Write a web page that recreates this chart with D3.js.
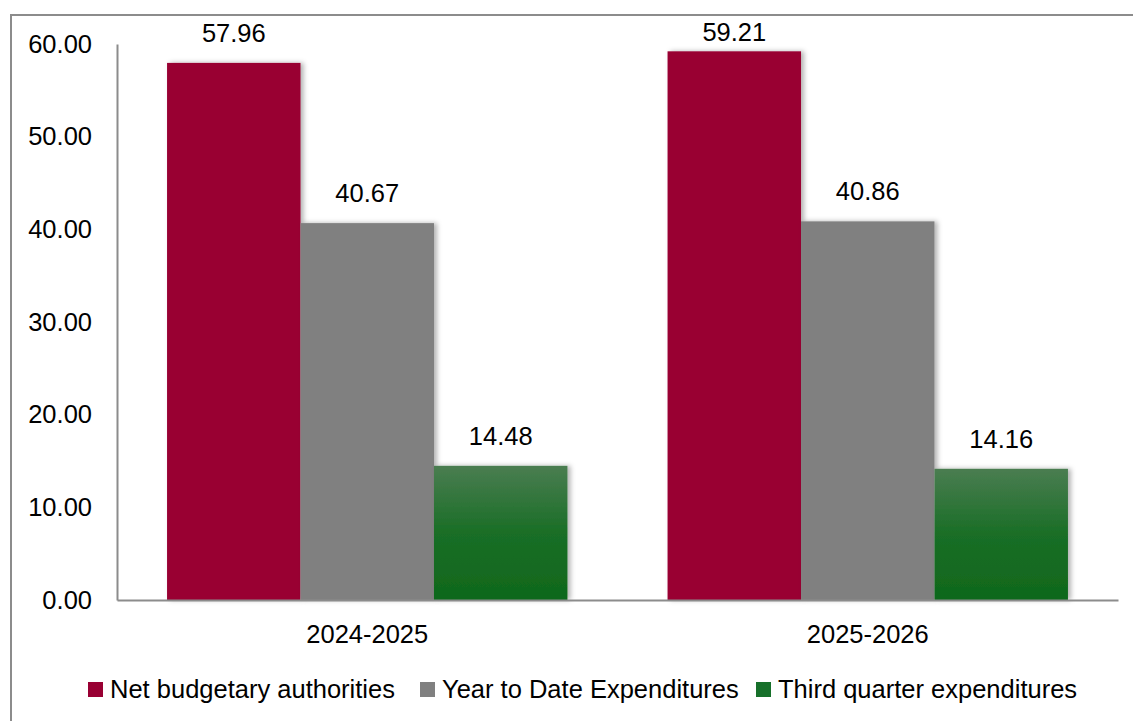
<!DOCTYPE html>
<html>
<head>
<meta charset="utf-8">
<script src="https://cdn.jsdelivr.net/npm/d3@7"></script>
<style>
  body { margin: 0; background: #fff; }
  svg text { font-family: "Liberation Sans", Arial, sans-serif; fill: #000; }
</style>
</head>
<body>
<div></div>
<script>
const categories = ['2024-2025', '2025-2026'];
const seriesNames = ['Net budgetary authorities', 'Year to Date Expenditures', 'Third quarter expenditures'];
const netBudgetary = [57.96, 59.21];
const yearToDate = [40.67, 40.86];
const thirdQuarter = [14.48, 14.16];
const yTicks = [0, 10, 20, 30, 40, 50, 60];

const seriesValues = [netBudgetary, yearToDate, thirdQuarter];
const colors = ['#990033', '#808080', 'url(#greenGrad)'];
const legendColors = ['#990033', '#808080', '#17702a'];

const svgWidth = 1133,
    svgHeight = 721;
const margin = { top: 44, left: 117, right: 15, bottom: 121 };
const plotRight = svgWidth - margin.right,
    plotBottom = svgHeight - margin.bottom;
const fontSize = '25.5px';

const svg = d3.select('body')
    .select('div')
    .append('svg')
    .attr('width', svgWidth)
    .attr('height', svgHeight);

const defs = svg.append('defs');
const grad = defs.append('linearGradient')
    .attr('id', 'greenGrad')
    .attr('x1', 0).attr('y1', 0).attr('x2', 0).attr('y2', 1);
grad.append('stop').attr('offset', '0%').attr('stop-color', '#4a7d51');
grad.append('stop').attr('offset', '50%').attr('stop-color', '#1a6e26');
grad.append('stop').attr('offset', '100%').attr('stop-color', '#0f681c');

const shadow = defs.append('filter')
    .attr('id', 'shadow')
    .attr('x', '-10%').attr('y', '-10%')
    .attr('width', '130%').attr('height', '120%');
shadow.append('feDropShadow')
    .attr('dx', 3).attr('dy', 0)
    .attr('stdDeviation', 2.5)
    .attr('flood-color', '#000')
    .attr('flood-opacity', 0.3);

// outer chart border (right/bottom run off the picture)
svg.append('rect')
    .attr('x', 11)
    .attr('y', 15)
    .attr('width', svgWidth + 20)
    .attr('height', svgHeight + 20)
    .attr('fill', 'none')
    .attr('stroke', '#8c8c8c')
    .attr('stroke-width', 2);

const x0 = d3.scaleBand()
    .domain(categories)
    .range([margin.left, plotRight])
    .paddingInner(0.2)
    .paddingOuter(0.1);

const x1 = d3.scaleBand()
    .domain(d3.range(seriesNames.length))
    .range([0, x0.bandwidth()]);

const yScale = d3.scaleLinear()
    .domain([0, 60])
    .range([plotBottom, margin.top]);

const groups = svg.selectAll('g.series')
    .data(seriesValues)
    .enter()
    .append('g')
    .attr('class', 'series');

groups.selectAll('rect')
    .data((vals, i) => vals.map((v, j) => ({ v, i, cat: categories[j] })))
    .enter()
    .append('rect')
    .attr('x', d => x0(d.cat) + x1(d.i))
    .attr('y', d => yScale(d.v))
    .attr('width', x1.bandwidth())
    .attr('height', d => yScale(0) - yScale(d.v))
    .attr('fill', d => colors[d.i])
    .attr('filter', 'url(#shadow)');

// labels stay inside the chart area, like Excel does
groups.selectAll('text')
    .data((vals, i) => vals.map((v, j) => ({ v, i, cat: categories[j] })))
    .enter()
    .append('text')
    .attr('x', d => x0(d.cat) + x1(d.i) + x1.bandwidth() / 2)
    .attr('y', d => Math.max(yScale(d.v) - 21, 41))
    .attr('text-anchor', 'middle')
    .style('font-size', fontSize)
    .text(d => d.v.toFixed(2));

const yAxis = d3.axisLeft(yScale)
    .tickValues(yTicks)
    .tickSize(0)
    .tickPadding(25)
    .tickFormat(d => d.toFixed(2));

const yG = svg.append('g')
    .attr('transform', `translate(${margin.left}, 0)`)
    .call(yAxis);
yG.select('.domain').attr('stroke', '#8c8c8c').attr('stroke-width', 2);
yG.selectAll('text').style('font-size', fontSize).style('font-family', '"Liberation Sans", Arial, sans-serif');

const xAxis = d3.axisBottom(x0).tickSize(0).tickPadding(25);
const xG = svg.append('g')
    .attr('transform', `translate(0, ${plotBottom})`)
    .call(xAxis);
xG.select('.domain').attr('stroke', '#8c8c8c').attr('stroke-width', 2);
xG.selectAll('text').style('font-size', fontSize).style('font-family', '"Liberation Sans", Arial, sans-serif');

const legendX = [88, 420, 756];
const legend = svg.append('g').attr('id', 'legend');
seriesNames.forEach((name, i) => {
    legend.append('rect')
        .attr('x', legendX[i])
        .attr('y', 682)
        .attr('width', 15)
        .attr('height', 15)
        .attr('fill', legendColors[i]);
    legend.append('text')
        .attr('x', legendX[i] + 22)
        .attr('y', 698)
        .style('font-size', fontSize)
        .text(name);
});
</script>
</body>
</html>
